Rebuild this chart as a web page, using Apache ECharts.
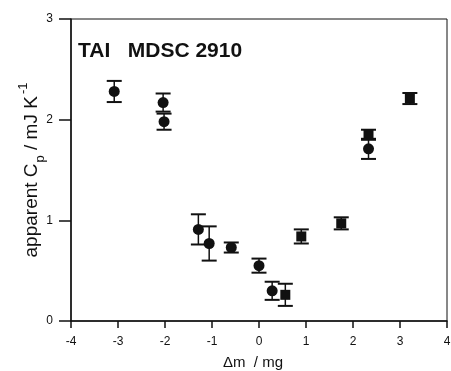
<!DOCTYPE html>
<html>
<head>
<meta charset="utf-8">
<script src="https://cdn.jsdelivr.net/npm/echarts@6/dist/echarts.min.js"></script>
<style>
  html, body { margin: 0; padding: 0; background: #fff; }
  #chart { width: 451px; height: 371px; }
</style>
</head>
<body>
<div id="chart"></div>
<script>
// circles: [dm, Cp, error]
const circleX = [-3.08, -2.04, -2.02, -1.29, -1.06, -0.59, 0.0, 0.28, 2.33];
const circleY = [2.28, 2.17, 1.98, 0.91, 0.77, 0.73, 0.55, 0.30, 1.71];
const circleErr = [0.105, 0.09, 0.08, 0.15, 0.17, 0.05, 0.07, 0.09, 0.10];
// squares
const squareX = [0.56, 0.90, 1.75, 2.33, 3.21];
const squareY = [0.26, 0.84, 0.97, 1.85, 2.21];
const squareErr = [0.11, 0.07, 0.06, 0.05, 0.055];

const xTicks = [-4, -3, -2, -1, 0, 1, 2, 3, 4];
const yTicks = [0, 1, 2, 3];

const FONT = "Liberation Sans";
const INK = "#111";

const zip = (xs, ys, es) => xs.map((x, i) => [x, ys[i], es[i]]);
const circles = zip(circleX, circleY, circleErr);
const squares = zip(squareX, squareY, squareErr);

const errorBars = (params, api) => {
    const x = api.value(0);
    const y = api.value(1);
    const e = api.value(2);
    const hi = api.coord([x, y + e]);
    const lo = api.coord([x, y - e]);
    const half = 7.5;
    const style = { stroke: INK, lineWidth: 1.5 };
    return {
        type: "group",
        children: [
            { type: "line", shape: { x1: hi[0], y1: hi[1], x2: lo[0], y2: lo[1] }, style },
            { type: "line", shape: { x1: hi[0] - half, y1: hi[1], x2: hi[0] + half, y2: hi[1] }, style: { stroke: INK, lineWidth: 2 } },
            { type: "line", shape: { x1: lo[0] - half, y1: lo[1], x2: lo[0] + half, y2: lo[1] }, style: { stroke: INK, lineWidth: 2 } }
        ]
    };
};

const chart = echarts.init(document.getElementById("chart"), null, { renderer: "canvas" });
chart.setOption({
    animation: false,
    backgroundColor: "#fff",
    textStyle: { fontFamily: FONT, color: INK },
    grid: {
        left: 71, right: 4, top: 19, bottom: 50,
        containLabel: false, outerBoundsMode: "none",
        show: true, borderColor: INK, borderWidth: 1
    },
    xAxis: {
        type: "value",
        min: xTicks[0], max: xTicks[xTicks.length - 1], interval: 1,
        splitLine: { show: false },
        axisLine: { onZero: false, lineStyle: { color: INK, width: 1.5 } },
        axisTick: { length: 7, lineStyle: { color: INK, width: 1.5 } },
        axisLabel: { color: INK, fontSize: 12, fontFamily: FONT, margin: 15 },
        name: "Δm  / mg",
        nameLocation: "middle",
        nameGap: 34,
        nameMoveOverlap: false,
        nameTextStyle: { color: INK, fontSize: 15, fontFamily: FONT, padding: [0, 12, 0, 0] }
    },
    yAxis: {
        type: "value",
        min: yTicks[0], max: yTicks[yTicks.length - 1], interval: 1,
        splitLine: { show: false },
        axisLine: { onZero: false, lineStyle: { color: INK, width: 1.5 } },
        axisTick: { length: 12, lineStyle: { color: INK, width: 1.5 } },
        axisLabel: { color: INK, fontSize: 12, fontFamily: FONT, margin: 18 },
        name: "{t|apparent C}{sub|p}{t| / mJ K}{sup|-1}",
        nameLocation: "middle",
        nameRotate: 90,
        nameGap: 24,
        nameMoveOverlap: false,
        nameTextStyle: {
            rich: {
                t: { fontSize: 19, fontFamily: FONT, color: INK, lineHeight: 30, verticalAlign: "middle" },
                sub: { fontSize: 13, fontFamily: FONT, color: INK, lineHeight: 30, verticalAlign: "bottom", padding: [0, 0, 0, 1] },
                sup: { fontSize: 13, fontFamily: FONT, color: INK, lineHeight: 30, verticalAlign: "top", padding: [0, 0, 0, 2] }
            }
        }
    },
    graphic: [{
        type: "text",
        left: 78, top: 41,
        style: { text: "TAI   MDSC 2910", fill: INK, font: "bold 21px 'Liberation Sans'" }
    }],
    series: [
        { type: "custom", renderItem: errorBars, data: circles, z: 2 },
        { type: "custom", renderItem: errorBars, data: squares, z: 2 },
        {
            type: "scatter", data: circles, symbol: "circle", symbolSize: 11,
            itemStyle: { color: INK, opacity: 1 }, z: 3
        },
        {
            type: "scatter", data: squares, symbol: "rect", symbolSize: 10,
            itemStyle: { color: INK, opacity: 1 }, z: 3
        }
    ]
});
</script>
</body>
</html>
